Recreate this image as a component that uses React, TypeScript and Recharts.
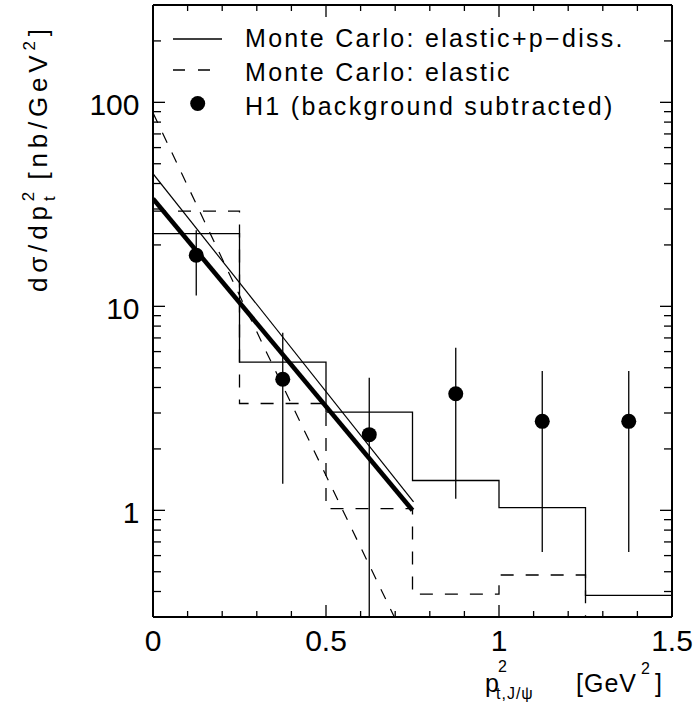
import React from 'react';
import { ComposedChart, Line, Scatter, ErrorBar, XAxis, YAxis, Legend } from 'recharts';

const FONT = '"Liberation Sans", Arial, sans-serif';

// histogram bin edges and contents (MC)
const binEdges = [0, 0.25, 0.5, 0.75, 1.0, 1.25, 1.5];
const mcTotal = [22.7, 5.33, 3.03, 1.4, 1.03, 0.383];
const mcElastic = [29.3, 3.34, 1.02, 0.388, 0.482, 0.15];

// H1 data points
const h1X = [0.125, 0.375, 0.625, 0.875, 1.125, 1.375];
const h1Y = [17.8, 4.39, 2.35, 3.73, 2.73, 2.73];
const h1Low = [11.3, 1.35, 0.3, 1.14, 0.625, 0.625];
const h1High = [23.6, 7.43, 4.47, 6.27, 4.82, 4.82];

// fitted slopes
const fitThickX = [0, 0.75];
const fitThickY = [33.7, 1.0];
const fitThinX = [0, 0.753];
const fitThinY = [44.7, 1.1];
const elasticCurveX = [0, 0.33, 0.72];
const elasticCurveY = [88.8, 5.86, 0.25];

// axis ticks
const xMajorTicks = [0, 0.5, 1, 1.5];
const xMinorTicks = [0.1, 0.2, 0.3, 0.4, 0.6, 0.7, 0.8, 0.9, 1.1, 1.2, 1.3, 1.4];
const yMajorTicks = [1, 10, 100];
const yMinorTicks = [0.4, 0.5, 0.6, 0.7, 0.8, 0.9, 2, 3, 4, 5, 6, 7, 8, 9, 20, 30, 40, 50, 60, 70, 80, 90, 200];

const xTicks = [...xMajorTicks, ...xMinorTicks].sort((a, b) => a - b);
const yTicks = [...yMajorTicks, ...yMinorTicks].sort((a, b) => a - b);

const legendItems = [
  { label: 'Monte Carlo: elastic+p\u2212diss.', kind: 'solid' },
  { label: 'Monte Carlo: elastic', kind: 'dashed' },
  { label: 'H1 (background subtracted)', kind: 'dot' },
];

const histo = (vals: number[]) =>
  binEdges.map((x, i) => ({ x, y: vals[Math.min(i, vals.length - 1)] }));
const pairs = (xs: number[], ys: number[]) => xs.map((x, i) => ({ x, y: ys[i] }));

const mcTotalData = histo(mcTotal);
const mcElasticData = histo(mcElastic);
const h1Data = h1X.map((x, i) => ({ x, y: h1Y[i], err: [h1Y[i] - h1Low[i], h1High[i] - h1Y[i]] }));

function XTick(props: any) {
  const { x, y, payload, side } = props;
  const v = payload.value;
  const major = xMajorTicks.includes(v);
  const len = major ? 12 : 6;
  const dir = side === 'top' ? 1 : -1;
  return (
    <g>
      <line x1={x} x2={x} y1={y} y2={y + dir * len} stroke="#000" strokeWidth={1.3} />
      {major && side === 'bottom' && (
        <text x={x} y={y + 33.5} textAnchor="middle" fontFamily={FONT} fontSize={30} fill="#000">
          {String(v)}
        </text>
      )}
    </g>
  );
}

function YTick(props: any) {
  const { x, y, payload, side } = props;
  const v = payload.value;
  const major = yMajorTicks.includes(v);
  const len = major ? 12 : 8;
  const dir = side === 'right' ? -1 : 1;
  return (
    <g>
      <line x1={x} x2={x + dir * len} y1={y} y2={y} stroke="#000" strokeWidth={1.3} />
      {major && side === 'left' && (
        <text x={x - 13.5} y={y + 12.3} textAnchor="end" fontFamily={FONT} fontSize={30} fill="#000">
          {String(v)}
        </text>
      )}
    </g>
  );
}

const Dot = (props: any) => <circle cx={props.cx} cy={props.cy} r={7.5} fill="#000" />;

const renderLegend = () => (
  <div style={{ fontFamily: FONT, fontSize: 25, letterSpacing: 2.3, lineHeight: '34px', color: '#000', whiteSpace: 'nowrap' }}>
    {legendItems.map((it) => (
      <div key={it.label} style={{ display: 'flex', height: 34 }}>
        <svg width={73} height={34} style={{ flex: 'none' }}>
          {it.kind === 'solid' && <line x1={1} x2={50} y1={18} y2={18} stroke="#000" strokeWidth={1.3} />}
          {it.kind === 'dashed' && (
            <line x1={1} x2={38} y1={15} y2={15} stroke="#000" strokeWidth={1.3} strokeDasharray="12 13" />
          )}
          {it.kind === 'dot' && <circle cx={25.7} cy={14.5} r={7.5} fill="#000" />}
        </svg>
        <span>{it.label}</span>
      </div>
    ))}
  </div>
);

export default function App() {
  return (
    <div style={{ position: 'absolute', left: 0, top: 0, width: 697, height: 708, background: '#fff' }}>
      <ComposedChart width={697} height={708} margin={{ top: 4, right: 20, bottom: 41, left: 93 }}>
        <XAxis
          dataKey="x"
          type="number"
          domain={[0, 1.5]}
          ticks={xTicks}
          interval={0}
          tickSize={0}
          tickMargin={0}
          height={50}
          axisLine={{ stroke: '#000', strokeWidth: 2 }}
          tickLine={false}
          tick={(p: any) => <XTick {...p} side="bottom" />}
          allowDataOverflow
        />
        <XAxis
          xAxisId="top"
          orientation="top"
          dataKey="x"
          type="number"
          domain={[0, 1.5]}
          ticks={xTicks}
          interval={0}
          tickSize={0}
          tickMargin={0}
          height={1}
          axisLine={{ stroke: '#000', strokeWidth: 2 }}
          tickLine={false}
          tick={(p: any) => <XTick {...p} side="top" />}
          allowDataOverflow
        />
        <YAxis
          type="number"
          scale="log"
          domain={[0.3, 300]}
          ticks={yTicks}
          interval={0}
          tickSize={0}
          tickMargin={0}
          width={60}
          axisLine={{ stroke: '#000', strokeWidth: 2 }}
          tickLine={false}
          tick={(p: any) => <YTick {...p} side="left" />}
          allowDataOverflow
        />
        <YAxis
          yAxisId="right"
          orientation="right"
          type="number"
          scale="log"
          domain={[0.3, 300]}
          ticks={yTicks}
          interval={0}
          tickSize={0}
          tickMargin={0}
          width={5}
          axisLine={{ stroke: '#000', strokeWidth: 2 }}
          tickLine={false}
          tick={(p: any) => <YTick {...p} side="right" />}
          allowDataOverflow
        />
        <Line data={mcTotalData} dataKey="y" type="stepAfter" stroke="#000" strokeWidth={1.3} dot={false} activeDot={false} isAnimationActive={false} />
        <Line data={mcElasticData} dataKey="y" type="stepAfter" stroke="#000" strokeWidth={1.3} strokeDasharray="13 12" dot={false} activeDot={false} isAnimationActive={false} />
        <Line data={pairs(elasticCurveX, elasticCurveY)} dataKey="y" type="linear" stroke="#000" strokeWidth={1.2} strokeDasharray="11 11" dot={false} activeDot={false} isAnimationActive={false} />
        <Line data={pairs(fitThinX, fitThinY)} dataKey="y" type="linear" stroke="#000" strokeWidth={1.2} dot={false} activeDot={false} isAnimationActive={false} />
        <Line data={pairs(fitThickX, fitThickY)} dataKey="y" type="linear" stroke="#000" strokeWidth={4.6} dot={false} activeDot={false} isAnimationActive={false} />
        <Scatter data={h1Data} dataKey="y" shape={Dot} isAnimationActive={false}>
          <ErrorBar dataKey="err" direction="y" width={0} stroke="#000" strokeWidth={1.3} isAnimationActive={false} />
        </Scatter>
        <Legend
          layout="vertical"
          align="center"
          verticalAlign="middle"
          content={renderLegend}
          wrapperStyle={{ position: 'absolute', left: 172, top: 21, width: 'auto', height: 'auto' }}
        />
      </ComposedChart>
      <svg width={697} height={708} style={{ position: 'absolute', left: 0, top: 0, pointerEvents: 'none' }}>
        <g transform="translate(47,292) rotate(-90)" fontFamily={FONT} fill="#000">
          <text x={0} y={0} fontSize={26} letterSpacing={4.8}>
            d{'\u03c3'}/dp
            <tspan dy={-13} fontSize={17}>2</tspan>
            <tspan dx={-14} dy={21} fontSize={17}>t</tspan>
            <tspan dy={-8}> [nb/GeV</tspan>
            <tspan dy={-12} fontSize={17}>2</tspan>
            <tspan dy={12}>]</tspan>
          </text>
        </g>
        <g fontFamily={FONT} fill="#000">
          <text x={485} y={692} fontSize={25}>p</text>
          <text x={498} y={672} fontSize={16}>2</text>
          <text x={496} y={699} fontSize={16} letterSpacing={1}>t,J/{'\u03c8'}</text>
          <text x={576} y={692} fontSize={25} letterSpacing={1}>[GeV</text>
          <text x={641} y={674} fontSize={16}>2</text>
          <text x={655} y={692} fontSize={25}>]</text>
        </g>
      </svg>
    </div>
  );
}
